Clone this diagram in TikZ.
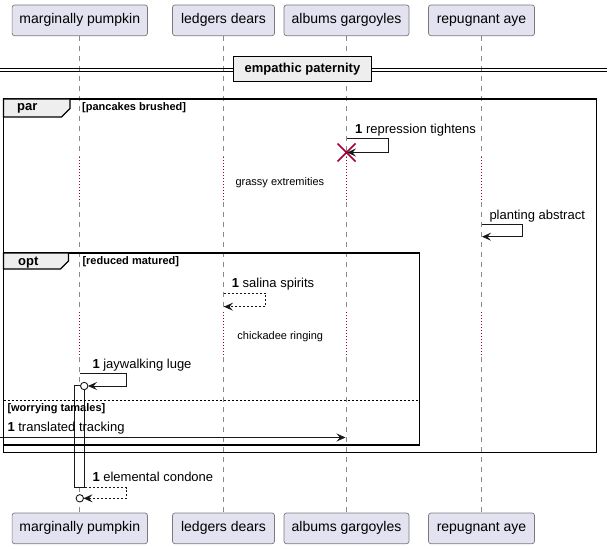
\documentclass[tikz,border=0pt]{standalone}
\usepackage{fontspec}
\setmainfont{Liberation Sans}
\usetikzlibrary{arrows.meta,calc}
\definecolor{partfill}{HTML}{E2E2F0}
\definecolor{partdraw}{HTML}{7A7A7A}
\definecolor{lifec}{HTML}{8A8A8A}
\definecolor{delayc}{HTML}{A80036}
\definecolor{grpfill}{HTML}{EEEEEE}
\definecolor{ink}{HTML}{181818}
\begin{document}
\begin{tikzpicture}[x=1pt,y=-1pt,
  part/.style={draw=partdraw,fill=partfill,rounded corners=2.5pt,line width=0.7pt,
    minimum height=30.7pt,inner sep=0pt,font=\fontsize{14}{16}\selectfont},
  lifeline/.style={draw=lifec,line width=0.8pt,dash pattern=on 5pt off 5pt},
  delayline/.style={draw=delayc,line width=0.8pt,dash pattern=on 1pt off 2pt},
  msgtxt/.style={anchor=west,inner sep=0pt,font=\fontsize{13}{15}\selectfont},
  delaytxt/.style={anchor=center,inner sep=0pt,font=\fontsize{11}{13}\selectfont},
  grptxt/.style={anchor=west,inner sep=0pt,font=\fontsize{11}{13}\selectfont\bfseries},
  grpname/.style={anchor=west,inner sep=0pt,font=\fontsize{13}{15}\selectfont\bfseries},
  frame/.style={draw=black,line width=1.5pt},
  tabshape/.style={draw=black,line width=1.2pt,fill=grpfill},
  msg/.style={draw=ink,line width=0.9pt},
  arr/.style={msg,-{Stealth[length=9pt,width=8pt,inset=3.5pt]}},
  darr/.style={arr,dash pattern=on 2pt off 2pt},
  dmsg/.style={msg,dash pattern=on 2pt off 2pt},
  endcirc/.style={draw=ink,line width=0.9pt,fill=white}
]
\useasboundingbox (0,0) rectangle (612,548);
\fill[white] (0,0) rectangle (612,548);

% participants
\node[part,minimum width=135.4pt] (p1t) at (79.8,20.35) {marginally pumpkin};
\node[part,minimum width=102pt] (p2t) at (223.5,20.35) {ledgers dears};
\node[part,minimum width=125pt] (p3t) at (346.5,20.35) {albums gargoyles};
\node[part,minimum width=106pt] (p4t) at (481.5,20.35) {repugnant aye};
\node[part,minimum width=135.4pt] (p1b) at (79.8,528.35) {marginally pumpkin};
\node[part,minimum width=102pt] (p2b) at (223.5,528.35) {ledgers dears};
\node[part,minimum width=125pt] (p3b) at (346.5,528.35) {albums gargoyles};
\node[part,minimum width=106pt] (p4b) at (481.5,528.35) {repugnant aye};

% lifelines with delays
\foreach \p in {1,2,3,4}{
  \draw[lifeline] (p\p t.south) -- (p\p t.south |- 0,157);
  \draw[delayline] (p\p t.south |- 0,157) -- (p\p t.south |- 0,202);
  \draw[lifeline] (p\p t.south |- 0,202) -- (p\p t.south |- 0,312);
  \draw[delayline] (p\p t.south |- 0,312) -- (p\p t.south |- 0,357);
  \draw[lifeline] (p\p t.south |- 0,357) -- (p\p b.north);
}

% separator
\draw[black,line width=0.9pt] (0,68.3) -- (607,68.3);
\draw[black,line width=0.9pt] (0,71.7) -- (607,71.7);
\node[draw=black,line width=1.5pt,fill=grpfill,minimum width=138.4pt,minimum height=25pt,inner sep=0pt,
  font=\fontsize{13}{15}\selectfont\bfseries] (sep) at (302.5,69.2) {empathic paternity};

% activation bar
\draw[draw=ink,line width=0.9pt,fill=white] (74.8,385) rectangle (84.8,487.7);

% par group
\draw[frame] (3.5,99) rectangle (596.5,452.3);
\draw[tabshape] (3.5,99) -- (70,99) -- (70,108.5) -- (61.5,117) -- (3.5,117) -- cycle;
\node[grpname] (parlbl) at (17,108.3) {par};
\node[grptxt] (parcond) at (82,107.5) {[pancakes brushed]};

% opt group
\draw[frame] (3.5,253) rectangle (419.3,445);
\draw[tabshape] (3.5,253) -- (68.5,253) -- (68.5,261) -- (60.5,269) -- (3.5,269) -- cycle;
\node[grpname] (optlbl) at (18,262.5) {opt};
\node[grptxt] (optcond) at (82.3,262) {[reduced matured]};
\draw[black,line width=0.8pt,dash pattern=on 2pt off 2pt] (3.5,400) -- (419.3,400);
\node[grptxt] (elsecond) at (7.3,408.3) {[worrying tamales]};

% repression tightens
\coordinate (r1) at (346.5,138.3);
\coordinate (r2) at (388.3,138.3);
\coordinate (r3) at (388.3,152.5);
\coordinate (r4) at (347,152.5);
\draw[arr] (r1) -- (r2) -- (r3) -- (r4);
\node[msgtxt] (m1) at (355,130) {\textbf{1} repression tightens};
\draw[delayc,line width=1.5pt] (337.5,143.5) -- (355.5,161.5) (337.5,161.5) -- (355.5,143.5);

\node[delaytxt] (d1) at (279.9,182.3) {grassy extremities};

% planting abstract
\coordinate (s1) at (481.5,224.3);
\coordinate (s2) at (522.7,224.3);
\coordinate (s3) at (522.7,236.7);
\coordinate (s4) at (482,236.7);
\draw[arr] (s1) -- (s2) -- (s3) -- (s4);
\node[msgtxt] (m2) at (489.3,216) {planting abstract};

% salina spirits
\coordinate (t1) at (223.5,293.3);
\coordinate (t2) at (265.7,293.3);
\coordinate (t3) at (265.7,306.7);
\coordinate (t4) at (224,306.7);
\draw[dmsg] (t1) -- (t2) -- (t3) -- (t4);
\draw[arr] (230,306.7) -- (t4);
\node[msgtxt] (m3) at (231.7,284.3) {\textbf{1} salina spirits};

\node[delaytxt] (d2) at (280.3,336.7) {chickadee ringing};

% jaywalking luge
\coordinate (j1) at (79.8,373.5);
\coordinate (j2) at (126.7,373.5);
\coordinate (j3) at (126.7,386);
\coordinate (j4) at (88,386);
\draw[arr] (j1) -- (j2) -- (j3) -- (j4);
\draw[endcirc] (84.2,386) circle (3.7pt);
\node[msgtxt] (m4) at (92.3,365) {\textbf{1} jaywalking luge};

% translated tracking
\coordinate (tr0) at (0,437.5);
\coordinate (tr1) at (345.5,437.5);
\draw[arr] (tr0) -- (tr1);
\node[msgtxt] (m5) at (7.3,428.3) {\textbf{1} translated tracking};

% elemental condone
\coordinate (e1) at (84.8,487.7);
\coordinate (e2) at (126.7,487.7);
\coordinate (e3) at (126.7,498.3);
\coordinate (e4) at (83.5,498.3);
\draw[dmsg] (e1) -- (e2) -- (e3) -- (e4);
\draw[arr] (90,498.3) -- (e4);
\draw[endcirc] (79.8,498.3) circle (3.7pt);
\node[msgtxt] (m6) at (92.3,476.7) {\textbf{1} elemental condone};
\end{tikzpicture}
\end{document}
